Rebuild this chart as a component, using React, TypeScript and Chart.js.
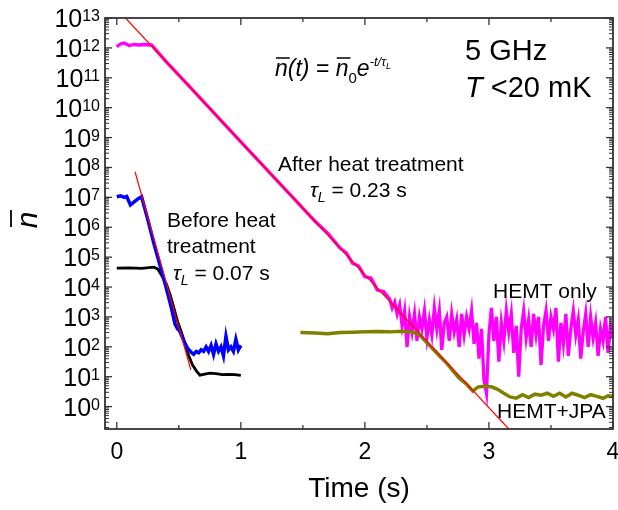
import React, { useEffect, useRef } from "react";
import { Chart, registerables } from "chart.js";

Chart.register(...registerables);

const FONT = '"Liberation Sans", Arial, Helvetica, sans-serif';

// ---------- data ----------
const fitAfterT = [0.07, 3.16];
const fitAfterN = [1e13, 0.178];
const fitBeforeT = [0.147, 0.597];
const fitBeforeN = [7.2e7, 17];

const magentaT = [
  0, 0.03, 0.06, 0.1, 0.14, 0.18, 0.22, 0.26, 0.28, 0.4, 0.6, 0.8, 1.0, 1.2, 1.4, 1.6, 1.7, 1.8, 1.85, 1.9,
  1.95, 2.0, 2.05, 2.1, 2.15,
  2.2, 2.22, 2.24, 2.26, 2.28, 2.3, 2.32, 2.34, 2.36, 2.38, 2.4, 2.42, 2.44, 2.46, 2.48, 2.5, 2.52, 2.54,
  2.56, 2.58, 2.6, 2.62, 2.64, 2.66, 2.68, 2.7, 2.72, 2.74, 2.76, 2.78, 2.8, 2.82, 2.84, 2.86, 2.88, 2.9,
  2.92, 2.94, 2.96, 2.98, 3.0, 3.02, 3.04, 3.06, 3.08, 3.1, 3.12, 3.14, 3.16, 3.18, 3.2, 3.22, 3.24, 3.26,
  3.28, 3.3, 3.32, 3.34, 3.36, 3.38, 3.4, 3.42, 3.44, 3.46, 3.48, 3.5, 3.52, 3.54, 3.56, 3.58, 3.6, 3.62,
  3.64, 3.66, 3.68, 3.7, 3.72, 3.74, 3.76, 3.78, 3.8, 3.82, 3.84, 3.86, 3.88, 3.9, 3.92, 3.94, 3.96, 3.98, 4.0,
];
const magentaN = [
  1.1e12, 1.35e12, 1.45e12, 1.2e12, 1.3e12, 1.25e12, 1.3e12, 1.25e12, 1.25e12, 3.4e11, 4.4e10, 5.6e9, 7.2e8,
  9.3e7, 1.2e7, 1.55e6, 6.3e5, 2.0e5, 1.4e5, 6.3e4, 5.0e4, 2.2e4, 2.0e4, 7.9e3, 7.1e3,
  3981, 1995, 3162, 1259, 2512, 501, 1585, 100, 1000, 316, 1259, 158, 1000, 398, 1585, 200, 794, 251,
  1995, 398, 1585, 79, 631, 1000, 158, 1259, 316, 794, 100, 1259, 251, 1000, 398, 1585, 126, 631,
  40, 398, 7.9, 2.8, 251, 1995, 158, 1000, 32, 631, 158, 1585, 316, 1259, 63, 501, 10, 398,
  1585, 200, 794, 100, 1259, 251, 1000, 25, 501, 1585, 158, 1000, 398, 1995, 32, 631, 126, 1259,
  50, 398, 1585, 251, 794, 40, 316, 1259, 100, 1000, 200, 631, 50, 398, 158, 1000, 63, 501, 200,
];

const blueT = [
  0, 0.03, 0.06, 0.08, 0.11, 0.14, 0.17, 0.2, 0.25, 0.3, 0.35, 0.4, 0.44, 0.47, 0.49, 0.51, 0.54, 0.57, 0.6,
  0.62, 0.64, 0.66, 0.68, 0.7, 0.72, 0.74, 0.76, 0.78, 0.8, 0.82, 0.84, 0.86, 0.88, 0.9, 0.92, 0.94, 0.96,
  0.98, 1.0,
];
const blueN = [
  1.05e7, 1.12e7, 1.0e7, 1.07e7, 5.6e6, 7.1e6, 8.9e6, 1.05e7, 1.8e6, 2.8e5, 5.0e4, 8.9e3, 2.0e3, 560, 400,
  320, 160, 89, 66, 56, 70, 63, 80, 71, 100, 70, 112, 56, 126, 71, 100, 50, 224, 79, 100, 71, 178, 79, 112,
];

const blackT = [
  0, 0.1, 0.2, 0.3, 0.33, 0.36, 0.4, 0.43, 0.46, 0.49, 0.52, 0.55, 0.58, 0.61, 0.64, 0.67, 0.7, 0.75, 0.8,
  0.85, 0.9, 0.95, 1.0,
];
const blackN = [
  4.3e4, 4.4e4, 4.2e4, 4.6e4, 4.0e4, 2.5e4, 1.26e4, 5.6e3, 2.0e3, 710, 316, 126, 50, 25, 16, 11.2, 12, 13.2,
  12.6, 11.7, 12, 11.7, 11,
];

const oliveT = [
  1.48, 1.6, 1.7, 1.8, 1.9, 2.0, 2.1, 2.2, 2.3, 2.38, 2.44, 2.52, 2.6, 2.66, 2.71, 2.76, 2.82, 2.87, 2.91,
  2.96, 3.02, 3.07, 3.12, 3.17, 3.22, 3.27, 3.32, 3.37, 3.42, 3.47, 3.52, 3.57, 3.62, 3.67, 3.72, 3.77, 3.82,
  3.87, 3.92, 3.96, 4.0,
];
const oliveN = [
  302, 288, 275, 302, 309, 316, 324, 316, 331, 316, 251, 112, 50, 28, 15.8, 8.9, 5.6, 3.3, 4.5, 4.8, 4.6,
  3.8, 2.8, 2.1, 1.9, 2.5, 2.0, 2.6, 2.4, 2.8, 2.2, 2.8, 2.1, 2.8, 2.4, 2.0, 2.5, 2.2, 1.9, 2.3, 2.2,
];

// ---------- ticks ----------
const xMajorTicks = [0, 1, 2, 3, 4];
const xTickLabels = ["0", "1", "2", "3", "4"];
const xMinorTicks = [0.5, 1.5, 2.5, 3.5];
const yMajorExps = [0, 1, 2, 3, 4, 5, 6, 7, 8, 9, 10, 11, 12, 13];
const yMinorMult = [2, 3, 4, 5, 6, 7, 8, 9];
const yMinorExps = [-1, 0, 1, 2, 3, 4, 5, 6, 7, 8, 9, 10, 11, 12];

const X_MIN = -0.095;
const X_MAX = 4.0;
const Y_MIN = 0.178;
const Y_MAX = 1e13;

const pts = (t: number[], n: number[]) => t.map((v, i) => ({ x: v, y: n[i] }));

type Run = { t: string; font: string; dy?: number; overline?: boolean };

function drawRuns(ctx: CanvasRenderingContext2D, x: number, y: number, runs: Run[]) {
  let cx = x;
  ctx.textAlign = "left";
  ctx.textBaseline = "alphabetic";
  for (const r of runs) {
    ctx.font = r.font;
    const w = ctx.measureText(r.t).width;
    const by = y + (r.dy || 0);
    ctx.fillText(r.t, cx, by);
    if (r.overline) {
      ctx.save();
      ctx.lineWidth = 1.5;
      ctx.beginPath();
      ctx.moveTo(cx + 1, by - 18);
      ctx.lineTo(cx + w + 2, by - 18);
      ctx.stroke();
      ctx.restore();
    }
    cx += w;
  }
}

const decor = {
  id: "decor",
  afterDatasetsDraw(chart: any) {
    const { ctx, chartArea: a, scales } = chart;
    const xs = scales.x;
    const ys = scales.y;
    ctx.save();
    ctx.strokeStyle = "#333";
    ctx.lineWidth = 1.8;
    const line = (x1: number, y1: number, x2: number, y2: number) => {
      ctx.beginPath();
      ctx.moveTo(x1, y1);
      ctx.lineTo(x2, y2);
      ctx.stroke();
    };
    ctx.strokeRect(a.left, a.top, a.right - a.left, a.bottom - a.top);
    ctx.lineWidth = 1.3;
    for (const v of xMajorTicks) {
      const px = xs.getPixelForValue(v);
      line(px, a.bottom, px, a.bottom - 7);
      line(px, a.top, px, a.top + 7);
    }
    for (const v of xMinorTicks) {
      const px = xs.getPixelForValue(v);
      line(px, a.bottom, px, a.bottom - 4);
      line(px, a.top, px, a.top + 4);
    }
    for (const e of yMajorExps) {
      const py = ys.getPixelForValue(Math.pow(10, e));
      line(a.left, py, a.left + 7, py);
      line(a.right - 7, py, a.right, py);
    }
    ctx.lineWidth = 1;
    for (const e of yMinorExps) {
      for (const m of yMinorMult) {
        const v = m * Math.pow(10, e);
        if (v < Y_MIN || v > Y_MAX) continue;
        const py = ys.getPixelForValue(v);
        line(a.left, py, a.left + 4, py);
        line(a.right - 4, py, a.right, py);
      }
    }
    ctx.restore();
  },
  afterDraw(chart: any) {
    const { ctx, chartArea: a, scales } = chart;
    const xs = scales.x;
    const ys = scales.y;
    ctx.save();
    ctx.fillStyle = "#000";
    ctx.strokeStyle = "#000";
    // x tick labels
    ctx.font = `23px ${FONT}`;
    ctx.textAlign = "center";
    ctx.textBaseline = "alphabetic";
    xMajorTicks.forEach((v, i) => {
      ctx.fillText(xTickLabels[i], xs.getPixelForValue(v), 459);
    });
    // y tick labels
    for (const e of yMajorExps) {
      const py = ys.getPixelForValue(Math.pow(10, e));
      const ex = String(e);
      ctx.font = `16px ${FONT}`;
      ctx.textAlign = "right";
      const ew = ctx.measureText(ex).width;
      ctx.fillText(ex, a.left - 5, py + 3);
      ctx.font = `25px ${FONT}`;
      ctx.fillText("10", a.left - 5 - ew, py + 9);
    }
    // axis titles
    ctx.font = `28px ${FONT}`;
    ctx.textAlign = "center";
    ctx.fillText("Time (s)", (a.left + a.right) / 2, 497);
    ctx.save();
    ctx.translate(37, 220);
    ctx.rotate(-Math.PI / 2);
    ctx.font = `italic 30px ${FONT}`;
    ctx.textAlign = "center";
    ctx.fillText("n", 0, 0);
    ctx.lineWidth = 1.8;
    ctx.beginPath();
    ctx.moveTo(-7, -26);
    ctx.lineTo(10, -26);
    ctx.stroke();
    ctx.restore();

    const I = (s: number) => `italic ${s}px ${FONT}`;
    const R = (s: number) => `${s}px ${FONT}`;
    // formula
    drawRuns(ctx, 275, 76, [
      { t: "n", font: I(23), overline: true },
      { t: "(t)", font: I(23) },
      { t: " = ", font: R(23) },
      { t: "n", font: I(23), overline: true },
      { t: "0", font: R(15), dy: 7 },
      { t: "e", font: I(23) },
      { t: "-t/", font: I(13), dy: -10 },
      { t: "τ", font: I(13), dy: -10 },
      { t: "L", font: I(9), dy: -7 },
    ]);
    // top right
    drawRuns(ctx, 465, 60, [{ t: "5 GHz", font: R(29) }]);
    drawRuns(ctx, 465, 97, [
      { t: "T", font: I(29) },
      { t: " <20 mK", font: R(29) },
    ]);
    // after
    drawRuns(ctx, 278, 171, [{ t: "After heat treatment", font: R(21) }]);
    drawRuns(ctx, 310, 197, [
      { t: "τ", font: I(21) },
      { t: "L", font: I(14), dy: 5 },
      { t: " = 0.23 s", font: R(21) },
    ]);
    // before
    drawRuns(ctx, 167, 227, [{ t: "Before heat", font: R(21) }]);
    drawRuns(ctx, 167, 253, [{ t: "treatment", font: R(21) }]);
    drawRuns(ctx, 173, 280, [
      { t: "τ", font: I(21) },
      { t: "L", font: I(14), dy: 5 },
      { t: " = 0.07 s", font: R(21) },
    ]);
    drawRuns(ctx, 493, 298, [{ t: "HEMT only", font: R(21) }]);
    drawRuns(ctx, 497, 418, [{ t: "HEMT+JPA", font: R(21) }]);
    ctx.restore();
  },
};

export default function App() {
  const ref = useRef<HTMLCanvasElement | null>(null);
  useEffect(() => {
    if (!ref.current) return;
    const line = (data: any[], color: string, width: number) => ({
      data,
      borderColor: color,
      backgroundColor: color,
      borderWidth: width,
      pointRadius: 0,
      tension: 0,
      fill: false,
    });
    const chart = new Chart(ref.current, {
      type: "line",
      data: {
        datasets: [
          line(pts(fitAfterT, fitAfterN), "#ff0000", 1.2),
          line(pts(fitBeforeT, fitBeforeN), "#ff0000", 1.2),
          line(pts(blueT, blueN), "#0000ff", 3.5),
          line(pts(blackT, blackN), "#000000", 2.8),
          line(pts(oliveT, oliveN), "#808000", 3.5),
          line(pts(magentaT, magentaN), "#ff00ff", 3.3),
        ],
      },
      options: {
        responsive: false,
        animation: false,
        parsing: true,
        layout: { padding: { top: 18, right: 5, left: 0, bottom: 0 } },
        plugins: { legend: { display: false }, tooltip: { enabled: false }, title: { display: false } },
        scales: {
          x: {
            type: "linear",
            min: X_MIN,
            max: X_MAX,
            grid: { display: false },
            border: { display: false },
            ticks: { display: false },
            afterFit: (s: any) => {
              s.height = 81;
            },
          },
          y: {
            type: "logarithmic",
            min: Y_MIN,
            max: Y_MAX,
            grid: { display: false },
            border: { display: false },
            ticks: { display: false },
            afterFit: (s: any) => {
              s.width = 105;
            },
          },
        },
      } as any,
      plugins: [decor],
    });
    return () => chart.destroy();
  }, []);
  return (
    <div style={{ position: "absolute", left: 0, top: 0, width: 618, height: 510, background: "#fff" }}>
      <canvas ref={ref} width={618} height={510} style={{ display: "block" }} />
    </div>
  );
}
